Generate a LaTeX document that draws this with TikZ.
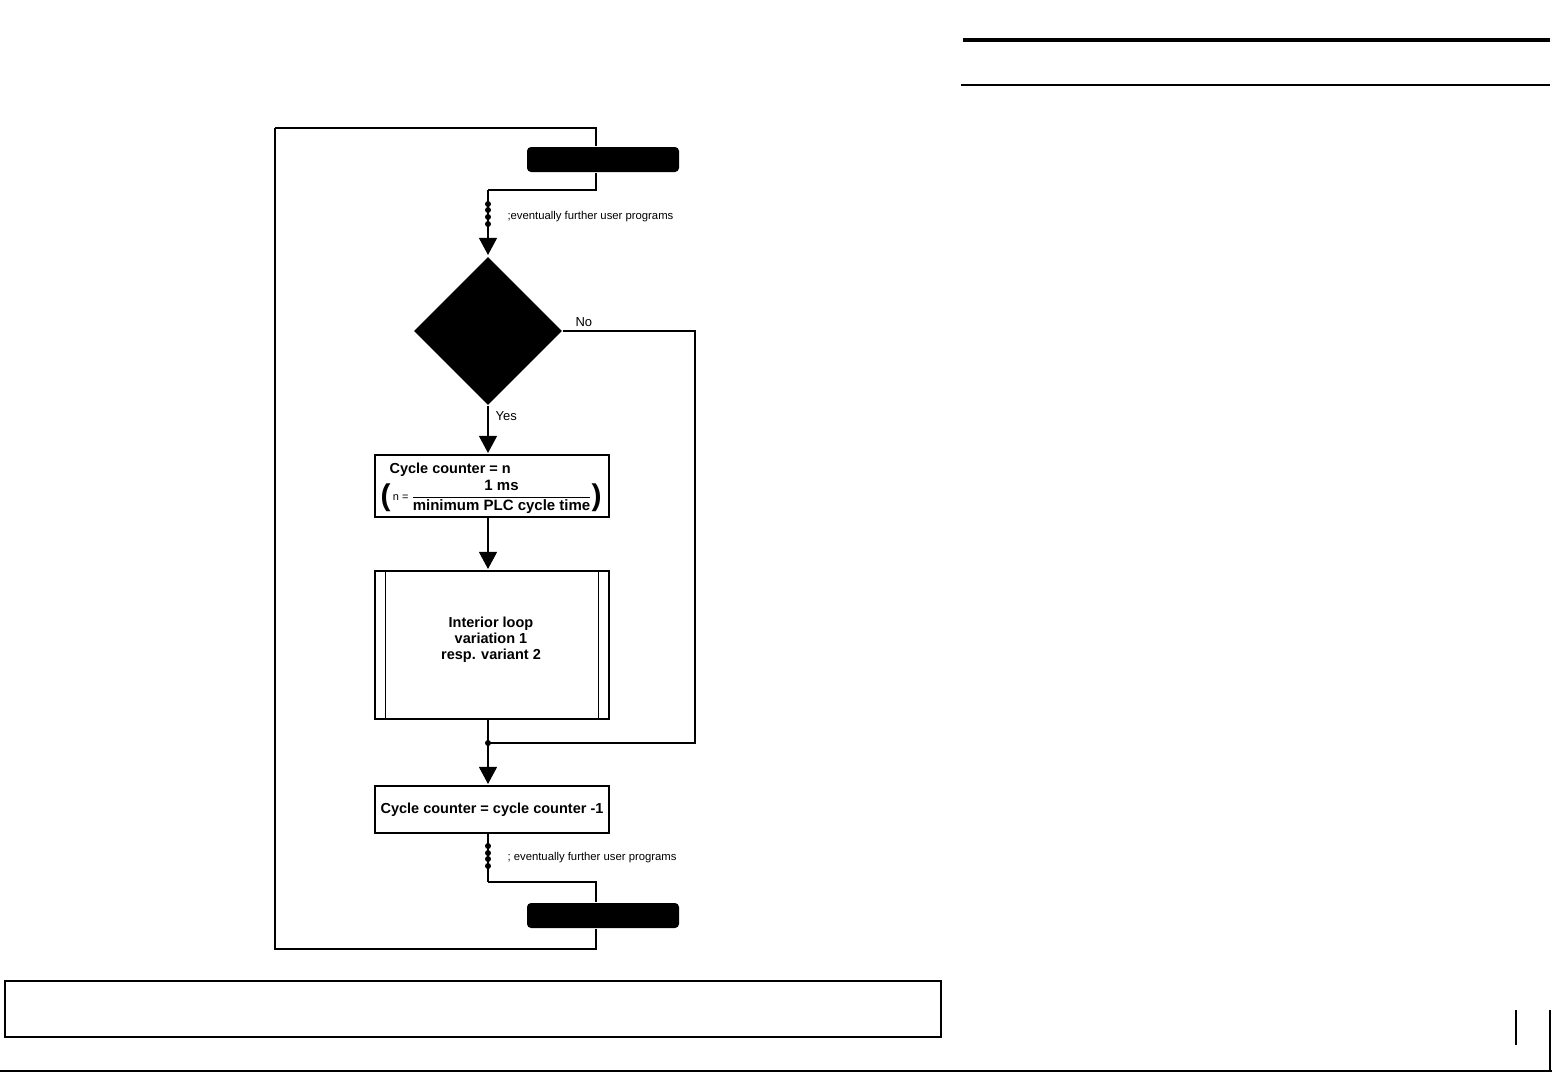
\documentclass[tikz,border=0pt]{standalone}
\usepackage{amsmath}
\usepackage{fontspec}
\setmainfont{Liberation Sans}
\usetikzlibrary{arrows.meta,shapes.geometric,calc}
\begin{document}
\begin{tikzpicture}[x=1pt,y=-1pt, line width=1.1pt,
 arr/.style={-{Triangle[width=18pt,length=17pt]}, shorten >=1.5pt},
 term/.style={fill=black, rounded corners=4pt, minimum width=152pt, minimum height=25pt, inner sep=0pt},
 proc/.style={draw, fill=white, minimum width=234pt, inner sep=0pt, font=\bfseries\fontsize{14.5}{16}\selectfont, align=center},
 small/.style={font=\fontsize{11.3}{13}\selectfont, anchor=west, inner sep=0pt},
 lbl/.style={font=\fontsize{13}{15}\selectfont, anchor=west, inner sep=0pt},
 dotm/.style={circle, fill=black, inner sep=0pt, minimum size=6pt}
]
\useasboundingbox (0,0) rectangle (1552,1072);

% page furniture
\draw[line width=4pt] (963,40) -- (1550,40);
\draw[line width=1.2pt] (961,85) -- (1550,85);
\node[draw, line width=1.2pt, minimum width=936pt, minimum height=56pt, inner sep=0pt] (note) at (473,1009) {};
\draw[line width=1.2pt] (0,1071) -- (1552,1071);
\draw[line width=1.2pt] (1550,1010) -- (1550,1071);
\draw[line width=1.2pt] (1516,1010) -- (1516,1045);

% nodes
\node[term] (start) at (603,159.5) {};
\node[term] (stop) at (603,915.5) {};
\node[diamond, fill=black, minimum width=148pt, minimum height=148pt, inner sep=0pt] (dec) at (488,331) {};
\node[proc, minimum height=62pt] (b1) at (492,486) {};
\node[proc, minimum height=148pt] (b2) at (492,645) {};
\node[inner sep=0pt, font=\bfseries\fontsize{14.5}{16}\selectfont, align=center] (b2t) at (491,640) {Interior loop\\variation 1\\resp. variant 2};
\node[proc, minimum height=47pt] (b3) at (492,809.5) {Cycle counter = cycle counter -1};

\draw ($(b2.north west)+(11,0)$) -- ($(b2.south west)+(11,0)$);
\draw ($(b2.north east)+(-11,0)$) -- ($(b2.south east)+(-11,0)$);

\node[anchor=west, inner sep=0pt, font=\bfseries\fontsize{14.5}{15}\selectfont] (t1) at (389,469.5) {Cycle counter = n};
\node[inner sep=0pt, font=\bfseries\fontsize{15}{16}\selectfont] (f1) at (491,497)
 {$\raisebox{-5pt}{\fontsize{30}{30}\selectfont(}\,\text{\mdseries\fontsize{11}{12}\selectfont n = }\dfrac{\text{\bfseries 1 ms}}{\text{\bfseries minimum PLC cycle time}}\raisebox{-5pt}{\fontsize{30}{30}\selectfont)}$};

% coordinates
\coordinate (tl) at (275,128);
\coordinate (tr) at (596,128);
\coordinate (bl) at (275,949);
\coordinate (br) at (596,949);
\coordinate (c1) at (488,190);
\coordinate (c2) at (488,882);
\coordinate (j) at (488,743);
\coordinate (nr) at (695,331);

% loop
\draw (tl) -- (tr) -- (tr |- start.north);
\draw (start.south -| tr) -- (c1 -| tr) -- (c1);
\draw[arr] (c1) -- (dec.north);
\draw (c2) -- (c2 -| tr) -- (stop.north -| tr);
\draw (stop.south -| tr) -- (br) -- (bl) -- (tl);

% branches
\draw (dec.east) -- (nr) -- (nr |- j) -- (j);
\draw[arr] (dec.south) -- (b1.north -| dec.south);
\draw[arr] (b1.south -| j) -- (b2.north -| j);
\draw (b2.south -| j) -- (j);
\draw[arr] (j) -- (b3.north -| j);
\draw (b3.south -| j) -- (c2);

\node[dotm] (jd) at (j) {};
\foreach \y [count=\i] in {204,210,217,224} \node[dotm] (da\i) at (488,\y) {};
\foreach \y [count=\i] in {846,853,859,866} \node[dotm] (db\i) at (488,\y) {};

\node[small] (u1) at (507,217) {;eventually further user programs};
\node[small] (u2) at (507,858) {; eventually further user programs};
\node[lbl] (no) at (575,322) {No};
\node[lbl] (yes) at (495,416) {Yes};
\end{tikzpicture}
\end{document}
